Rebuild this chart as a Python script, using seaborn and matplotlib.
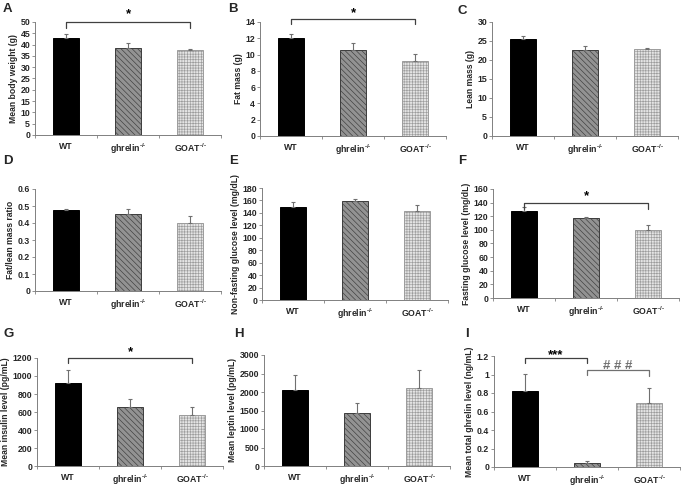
import numpy as np
import pandas as pd
import matplotlib.pyplot as plt
import seaborn as sns

groups = ['WT', r'ghrelin$^{\text{-/-}}$', r'GOAT$^{\text{-/-}}$']

body_weight = [43.0, 38.7, 37.8]
body_weight_err = [1.8, 1.8, 0.4]
fat_mass = [12.0, 10.5, 9.2]
fat_mass_err = [0.5, 0.9, 0.9]
lean_mass = [25.4, 22.7, 22.9]
lean_mass_err = [0.9, 1.1, 0.3]
fat_lean_ratio = [0.475, 0.455, 0.40]
fat_lean_ratio_err = [0.006, 0.025, 0.04]
nonfasting_glucose = [150, 159, 143]
nonfasting_glucose_err = [7, 4, 9]
fasting_glucose = [127, 117, 100]
fasting_glucose_err = [6, 2, 7]
insulin = [925, 660, 570]
insulin_err = [140, 90, 85]
leptin = [2060, 1420, 2120]
leptin_err = [390, 280, 470]
total_ghrelin = [0.82, 0.045, 0.69]
total_ghrelin_err = [0.19, 0.015, 0.16]

sns.set_style('ticks')
plt.rcParams['font.family'] = ['Liberation Sans', 'DejaVu Sans']
plt.rcParams['font.weight'] = 'bold'
plt.rcParams['mathtext.fontset'] = 'custom'
plt.rcParams['mathtext.rm'] = 'Liberation Sans:bold'
plt.rcParams['mathtext.bf'] = 'Liberation Sans:bold'
plt.rcParams['mathtext.default'] = 'bf'
plt.rcParams['hatch.linewidth'] = 0.45

W, H = 686, 487
fig = plt.figure(figsize=(W / 100, H / 100), dpi=100)

face = ['#000000', '#929292', '#e4e4e4']
edge = ['#000000', '#3c3c3c', '#9c9c9c']
hatches = ['', '\\\\\\\\\\\\', '++++++']


def px_axes(left, right, top, bottom):
    return fig.add_axes([left / W, 1 - bottom / H, (right - left) / W, (bottom - top) / H])


def panel(rect, vals, errs, ylabel, ymax, step, brackets=()):
    ax = px_axes(*rect)
    df = pd.DataFrame({'group': groups, 'value': vals})
    sns.barplot(data=df, x='group', y='value', hue='group', palette=face,
                width=0.42, errorbar=None, legend=False, saturation=1, ax=ax)
    for p, ec, h in zip(ax.patches, edge, hatches):
        p.set_edgecolor(ec)
        p.set_hatch(h)
        p.set_linewidth(0.7)
    ax.errorbar(range(3), vals, yerr=[np.zeros(3), errs], fmt='none',
                ecolor='#707070', elinewidth=0.8, capsize=1.6, capthick=0.8)
    ax.set_xlim(-0.5, 2.5)
    ax.set_ylim(0, ymax)
    ax.set_yticks(np.arange(0, ymax + step / 2, step))
    ax.set_yticklabels(['%g' % round(t, 3) for t in ax.get_yticks()])
    ax.set_xticks([0, 1, 2])
    ax.set_xticklabels(groups)
    ax.set_xticks([-0.5, 0.5, 1.5, 2.5], minor=True)
    ax.tick_params(axis='x', which='major', length=0, labelsize=6.3, pad=5)
    ax.tick_params(axis='x', which='minor', length=2.5, width=0.6, color='#808080')
    ax.tick_params(axis='y', length=2, width=0.6, color='#808080', labelsize=6.3, pad=1.5)
    ax.set_xlabel('')
    ax.set_ylabel(ylabel, fontsize=6.2, fontweight='bold', labelpad=2)
    sns.despine(ax=ax)
    for s in ['left', 'bottom']:
        ax.spines[s].set_color('#808080')
        ax.spines[s].set_linewidth(0.7)
    for x1, x2, y, yl, yr, txt, ty, col in brackets:
        ax.plot([x1, x1, x2, x2], [yl, y, y, yr], color=col, lw=0.9, clip_on=False)
        ax.text((x1 + x2) / 2, ty, txt, ha='center', va='center', fontsize=9.5,
                color=col if txt.startswith('#') else 'black', clip_on=False)
    return ax


panel((35, 221, 22, 135), body_weight, body_weight_err, 'Mean body weight (g)', 50, 5,
      [(0, 2, 50, 47.3, 47.3, '*', 53.5, '#404040')])
panel((260, 446, 22, 136), fat_mass, fat_mass_err, 'Fat mass (g)', 14, 2,
      [(0, 2, 14.4, 13.7, 13.7, '*', 15.1, '#404040')])
panel((492, 678, 22, 136), lean_mass, lean_mass_err, 'Lean mass (g)', 30, 5)
panel((35, 221, 189, 291), fat_lean_ratio, fat_lean_ratio_err, 'Fat/lean mass ratio', 0.6, 0.1)
panel((262, 448, 188, 300), nonfasting_glucose, nonfasting_glucose_err,
      'Non-fasting glucose level (mg/dL)', 180, 20)
panel((493, 679, 189, 298), fasting_glucose, fasting_glucose_err,
      'Fasting glucose level (mg/dL)', 160, 20,
      [(0, 2, 140, 131, 131, '*', 150, '#404040')])
panel((37, 223, 358, 466), insulin, insulin_err, 'Mean insulin level (pg/mL)', 1200, 200,
      [(0, 2, 1200, 1150, 1150, '*', 1265, '#404040')])
panel((264, 450, 355, 466), leptin, leptin_err, 'Mean leptin level (pg/mL)', 3000, 500)
panel((494, 680, 356, 467), total_ghrelin, total_ghrelin_err,
      'Mean total ghrelin level (ng/mL)', 1.2, 0.2,
      [(0, 1, 1.175, 1.12, 1.12, '***', 1.205, '#404040'),
       (1, 2, 1.048, 0.99, 0.985, '# # #', 1.092, '#707070')])

for letter, x, y in [('A', 3, 9), ('B', 228, 9), ('C', 458, 11),
                     ('D', 3, 161), ('E', 229, 161), ('F', 458, 161),
                     ('G', 3, 334), ('H', 234, 334), ('I', 465, 334)]:
    fig.text(x / W, 1 - y / H, letter, fontsize=9.5, fontweight='bold', va='center', ha='left')

fig.savefig('out.png', dpi=100)
